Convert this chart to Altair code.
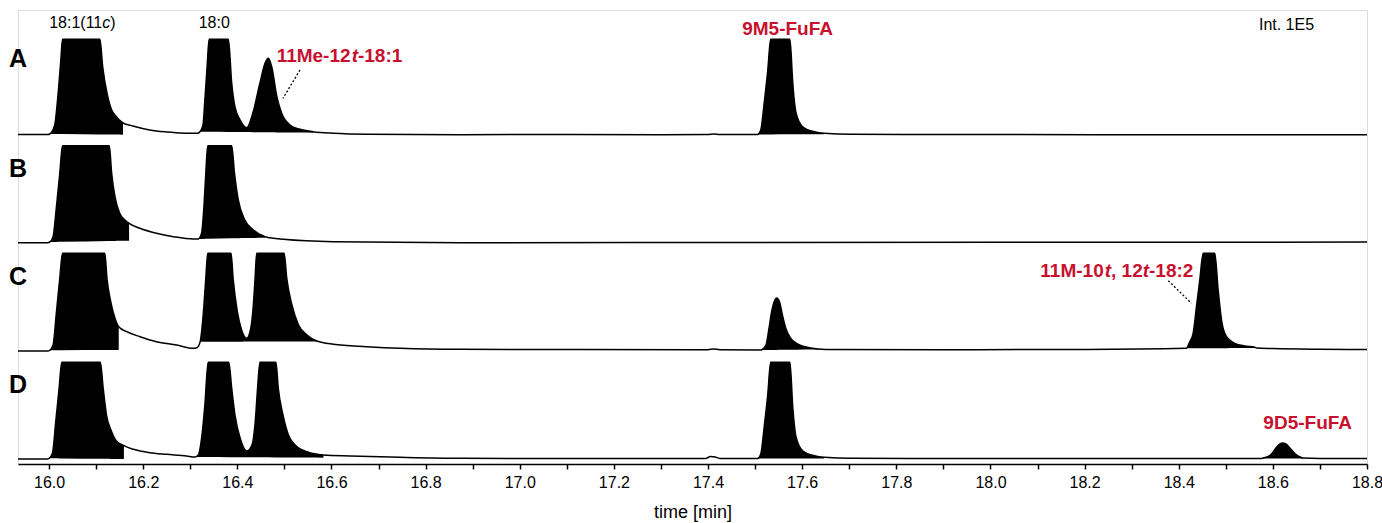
import altair as alt
import pandas as pd

# ---------------- data ----------------
X_MIN, X_MAX = 15.934, 18.8
MAJOR_LABELS = [16.0, 16.2, 16.4, 16.6, 16.8, 17.0, 17.2, 17.4, 17.6, 17.8, 18.0, 18.2, 18.4, 18.6, 18.8]
MINOR_TICKS = [16.1, 16.3, 16.5, 16.7, 16.9, 17.1, 17.3, 17.5, 17.7, 17.9, 18.1, 18.3, 18.5, 18.7]

# retention time [min] and intensity (relative units, peaks clipped at display top)
A_t = [15.934, 15.997, 16.0015, 16.012, 16.018, 16.025, 16.0285, 16.108, 16.114, 16.123, 16.133, 16.140,
       16.157, 16.178, 16.214, 16.250, 16.293, 16.316, 16.321, 16.327, 16.331, 16.336, 16.340, 16.381,
       16.388, 16.395, 16.406, 16.420, 16.433, 16.448, 16.459, 16.466, 16.473, 16.484, 16.494, 16.512,
       16.533, 16.561, 16.604, 16.676, 16.874, 17.100, 17.300, 17.400, 17.412, 17.425, 17.505, 17.512,
       17.520, 17.527, 17.533, 17.574, 17.580, 17.587, 17.601, 17.626, 17.647, 17.704, 18.000, 18.400, 18.800]
A_i = [0.2, 0.2, 0.7, 9.7, 34.7, 74.7, 95.4, 95.4, 67.7, 41.7, 24.7, 19.7,
       11.7, 8.7, 4.7, 2.7, 1.4, 1.4, 3.2, 9.7, 34.7, 69.7, 95.4, 95.4,
       51.7, 27.7, 14.7, 7.0, 21.7, 51.7, 71.7, 76.4, 68.0, 38.0, 21.7, 9.7,
       5.4, 3.0, 1.4, 0.4, 0.0, 0.2, 0.0, 0.2, 0.8, 0.2, 0.2, 4.7,
       34.7, 64.7, 95.4, 95.4, 51.7, 21.7, 8.0, 3.0, 1.4, 0.4, 0.1, 0.0, 0.0]

B_t = [15.934, 15.997, 16.0015, 16.0085, 16.0157, 16.0228, 16.0285, 16.128, 16.133, 16.140, 16.150, 16.161,
       16.170, 16.193, 16.228, 16.264, 16.306, 16.317, 16.324, 16.329, 16.333, 16.337, 16.388, 16.394,
       16.402, 16.416, 16.434, 16.459, 16.498, 16.604, 16.874, 17.400, 18.000, 18.800]
B_i = [0.0, 0.0, 0.7, 6.0, 36.0, 69.7, 97.0, 97.0, 69.4, 46.0, 29.4, 22.7,
       19.4, 14.4, 9.4, 6.0, 3.7, 3.7, 9.4, 36.0, 69.4, 97.0, 97.0, 69.4,
       42.7, 22.7, 12.7, 6.0, 3.4, 1.0, 0.0, 0.2, 0.4, 0.6]

C_t = [15.934, 15.997, 16.0015, 16.0085, 16.0157, 16.0228, 16.0285, 16.1185, 16.123, 16.131, 16.140, 16.148,
       16.165, 16.193, 16.228, 16.271, 16.306, 16.314, 16.321, 16.328, 16.333, 16.337, 16.3866, 16.391,
       16.400, 16.409, 16.420, 16.4285, 16.434, 16.4377, 16.441, 16.4994, 16.505, 16.516, 16.530, 16.548,
       16.569, 16.604, 16.675, 16.746, 16.874, 17.100, 17.400, 17.412, 17.425, 17.512, 17.523, 17.529,
       17.535, 17.542, 17.546, 17.552, 17.558, 17.565, 17.575, 17.590, 17.618, 17.650, 17.900, 18.200,
       18.4164, 18.4234, 18.4306, 18.4377, 18.4447, 18.4519, 18.4766, 18.4838, 18.4909, 18.5015, 18.5191,
       18.5404, 18.5617, 18.5653, 18.600, 18.700, 18.800]
C_i = [0.0, 0.0, 0.7, 6.0, 39.3, 73.0, 97.7, 97.7, 72.7, 49.3, 32.7, 24.3,
       19.3, 14.3, 9.3, 6.0, 2.7, 3.3, 9.3, 39.3, 72.7, 97.7, 97.7, 72.7,
       39.3, 21.0, 12.7, 22.7, 46.0, 72.7, 97.7, 97.7, 72.7, 46.0, 26.0, 16.0,
       10.0, 6.7, 4.3, 2.7, 1.7, 1.5, 1.3, 2.0, 1.3, 1.0, 6.0, 21.0,
       39.0, 51.0, 53.0, 49.0, 36.0, 23.0, 13.0, 7.0, 3.0, 1.5, 1.3, 1.5,
       2.7, 9.3, 17.7, 44.3, 71.0, 97.7, 97.7, 61.0, 31.0, 14.3, 7.7,
       5.0, 3.7, 3.0, 2.5, 1.8, 1.5]

D_t = [15.934, 15.995, 16.0, 16.0072, 16.0142, 16.0213, 16.027, 16.109, 16.115, 16.122, 16.133, 16.143,
       16.159, 16.179, 16.214, 16.250, 16.292, 16.310, 16.317, 16.324, 16.331, 16.338, 16.382, 16.388,
       16.395, 16.406, 16.420, 16.431, 16.438, 16.443, 16.448, 16.482, 16.487, 16.497, 16.5085, 16.523,
       16.548, 16.583, 16.640, 16.746, 16.874, 17.100, 17.395, 17.405, 17.415, 17.425, 17.505, 17.512,
       17.520, 17.527, 17.533, 17.574, 17.580, 17.587, 17.601, 17.626, 17.647, 17.704, 18.000, 18.400,
       18.575, 18.583, 18.595, 18.605, 18.613, 18.620, 18.628, 18.638, 18.648, 18.658, 18.665, 18.700, 18.800]
D_i = [0.0, 0.0, 0.7, 5.7, 37.3, 70.7, 96.7, 96.7, 70.7, 44.0, 27.3, 18.0,
       13.3, 9.7, 6.3, 4.7, 3.0, 2.0, 4.0, 20.7, 54.0, 96.7, 96.7, 70.7,
       44.0, 20.7, 8.0, 14.0, 37.3, 70.7, 96.7, 96.7, 70.7, 44.0, 24.0, 14.0,
       7.3, 4.0, 3.0, 1.7, 0.7, 0.5, 0.5, 2.5, 2.0, 0.6, 0.5, 5.0,
       35.0, 65.0, 96.7, 96.7, 52.0, 22.0, 8.3, 3.3, 1.7, 0.7, 0.5, 0.5,
       0.5, 1.5, 4.0, 10.0, 14.5, 16.0, 15.0, 10.0, 5.0, 2.0, 1.0, 0.6, 0.5]

TRACES = {"A": (A_t, A_i), "B": (B_t, B_i), "C": (C_t, C_i), "D": (D_t, D_i)}

# integrated peak windows: trace, start, end, baseline at start, baseline at end
FILLS = [
    ("A", 16.0015, 16.157, 0.7, 0.0), ("A", 16.321, 16.561, 3.0, 2.0), ("A", 17.505, 17.647, 0.2, 0.5),
    ("B", 16.0015, 16.170, 0.7, 2.0), ("B", 16.317, 16.459, 3.7, 5.0),
    ("C", 16.0015, 16.148, 0.7, 1.0), ("C", 16.321, 16.569, 9.3, 9.5), ("C", 17.512, 17.650, 1.0, 1.5),
    ("C", 18.4164, 18.5653, 2.7, 3.0),
    ("D", 16.0, 16.159, 0.7, 0.0), ("D", 16.310, 16.583, 2.0, 1.3), ("D", 17.505, 17.647, 0.5, 0.5),
    ("D", 18.575, 18.665, 0.5, 0.5),
]

# ---------------- layout (vertical stacking of traces) ----------------
OFFSET = {"A": 329.3, "B": 221.3, "C": 113.0, "D": 5.0}
RED = "#c8102e"
FONT = "Liberation Sans"

rows = []
for name, (ts, vals) in TRACES.items():
    for t, i in zip(ts, vals):
        rows.append({"trace": name, "t": t, "v": i + OFFSET[name]})
trace_df = pd.DataFrame(rows)

frows = []
for k, (name, t0, t1, b0, b1) in enumerate(FILLS):
    ts, vals = TRACES[name]
    for t, i in zip(ts, vals):
        if t0 - 1e-9 <= t <= t1 + 1e-9:
            frac = (t - t0) / (t1 - t0)
            frows.append({"region": k, "t": t, "v": i + OFFSET[name],
                          "bottom": OFFSET[name] + b0 + (b1 - b0) * frac})
fill_df = pd.DataFrame(frows)

xscale = alt.Scale(domain=[X_MIN, X_MAX], nice=False, zero=False)
yscale = alt.Scale(domain=[0, 454], nice=False, zero=False)
xaxis = alt.Axis(
    values=sorted(MAJOR_LABELS + MINOR_TICKS),
    labelExpr="abs(round(datum.value*10)) % 2 == 0 ? format(datum.value, '.1f') : ''",
    grid=False, domainColor="black", domainWidth=1.5, tickColor="black", tickWidth=1.5,
    tickSize=5, labelFont=FONT, labelFontSize=16, labelColor="black", labelPadding=5,
    labelFlush=False, labelOverlap=False,
    title="time [min]", titleFont=FONT, titleFontSize=18, titleFontWeight="normal",
    titleColor="black", titlePadding=13,
)
X = alt.X("t:Q", scale=xscale, axis=xaxis)
Y = alt.Y("v:Q", scale=yscale, axis=None)

area = alt.Chart(fill_df).mark_area(color="black", opacity=1, interpolate="monotone").encode(
    x=X, y=Y, y2=alt.Y2("bottom:Q"), detail="region:N"
)
line = alt.Chart(trace_df).mark_line(color="black", strokeWidth=1.5, strokeJoin="round",
                                     interpolate="monotone").encode(
    x=X, y=Y, detail="trace:N"
)

LEADERS = pd.DataFrame({"t": [16.533, 18.378], "v": [394.0, 183.3],
                        "t2": [16.497, 18.427], "v2": [365.7, 160.7]})
rules = alt.Chart(LEADERS).mark_rule(color="black", strokeWidth=1.3, strokeDash=[2, 2]).encode(
    x=X, y=Y, x2="t2:Q", y2="v2:Q"
)


def txt(text, t, v, size, color="black", weight="normal", style="normal", align="center", dx=0):
    d = pd.DataFrame({"t": [t], "v": [v], "s": [text]})
    return alt.Chart(d).mark_text(
        font=FONT, fontSize=size, color=color, fontWeight=weight, fontStyle=style,
        align=align, baseline="alphabetic", dx=dx
    ).encode(x=X, y=Y, text="s:N")


texts = [
    # peak names (black)
    txt("18:1(11", 16.113, 436, 16, align="right"),
    txt("c", 16.113, 436, 16, style="italic", align="left"),
    txt(")", 16.113, 436, 16, align="left", dx=8),
    txt("18:0", 16.351, 436, 16),
    txt("Int. 1E5", 18.629, 434, 16),
    # panel letters
    txt("A", 15.915, 397, 25, weight="bold", align="left"),
    txt("B", 15.915, 287.3, 25, weight="bold", align="left"),
    txt("C", 15.915, 179, 25, weight="bold", align="left"),
    txt("D", 15.915, 71, 25, weight="bold", align="left"),
    # red compound labels
    txt("11Me-12", 16.4835, 402.3, 19, RED, "bold", align="left"),
    txt("t", 16.4835, 402.3, 19, RED, "bold", "italic", align="left", dx=75.0),
    txt("-18:1", 16.4835, 402.3, 19, RED, "bold", align="left", dx=81.3),
    txt("9M5-FuFA", 17.569, 429, 19, RED, "bold"),
    txt("11M-10", 18.106, 187.3, 19, RED, "bold", align="left"),
    txt("t", 18.106, 187.3, 19, RED, "bold", "italic", align="left", dx=64.4),
    txt(", 12", 18.106, 187.3, 19, RED, "bold", align="left", dx=70.7),
    txt("t", 18.106, 187.3, 19, RED, "bold", "italic", align="left", dx=102.4),
    txt("-18:2", 18.106, 187.3, 19, RED, "bold", align="left", dx=108.7),
    txt("9D5-FuFA", 18.674, 34.7, 19, RED, "bold"),
]

chart = alt.layer(area, line, rules, *texts).properties(
    width=1349, height=454,
    padding={"left": 18, "top": 10, "right": 15, "bottom": 59},
    autosize=alt.AutoSizeParams(type="none"),
).configure_view(stroke=None).configure(background="white")

chart.save("out.html", embed_options={"renderer": "svg", "actions": False})
